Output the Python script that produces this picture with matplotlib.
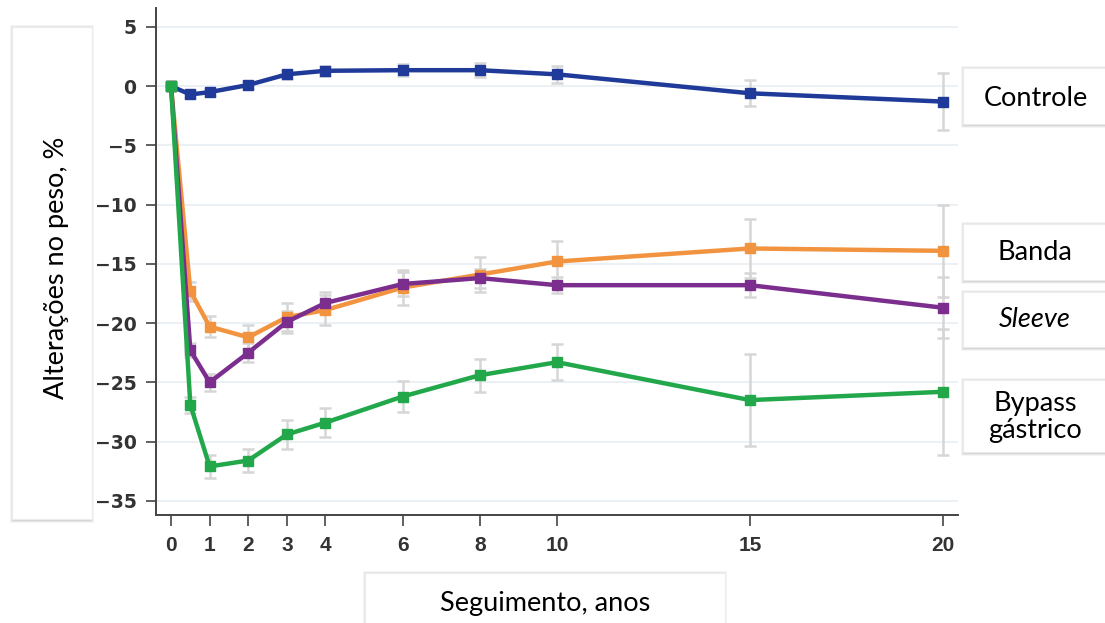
import matplotlib
matplotlib.use("Agg")
import matplotlib.pyplot as plt
from matplotlib.patches import Rectangle

years = [0, 0.5, 1, 2, 3, 4, 6, 8, 10, 15, 20]
xticks = [0, 1, 2, 3, 4, 6, 8, 10, 15, 20]
yticks = [5, 0, -5, -10, -15, -20, -25, -30, -35]

controle = [0, -0.7, -0.5, 0.1, 1.0, 1.3, 1.35, 1.35, 1.0, -0.6, -1.3]
controle_err = [0, 0.3, 0.3, 0.3, 0.4, 0.4, 0.5, 0.6, 0.7, 1.1, 2.4]

banda = [0, -17.3, -20.3, -21.2, -19.5, -18.9, -17.0, -15.9, -14.8, -13.7, -13.9]
banda_err = [0, 0.8, 0.9, 1.0, 1.2, 1.3, 1.5, 1.5, 1.7, 2.5, 3.9]

sleeve = [0, -22.3, -25.0, -22.5, -19.9, -18.3, -16.7, -16.2, -16.8, -16.8, -18.7]
sleeve_err = [0, 0.6, 0.7, 0.8, 0.9, 0.9, 1.0, 0.8, 0.7, 1.0, 2.6]

bypass = [0, -26.9, -32.1, -31.6, -29.4, -28.4, -26.2, -24.4, -23.3, -26.5, -25.8]
bypass_err = [0, 0.7, 1.0, 1.0, 1.2, 1.2, 1.3, 1.4, 1.5, 3.9, 5.3]

series = [
    (controle, controle_err, "#1f3a98"),
    (banda, banda_err, "#f2943f"),
    (sleeve, sleeve_err, "#7b2e8e"),
    (bypass, bypass_err, "#22a84a"),
]

W, H = 1105, 623
fig = plt.figure(figsize=(W / 100, H / 100), dpi=100)
ax = fig.add_axes([156 / W, 1 - 515 / H, (958 - 156) / W, (515 - 8) / H])

for vals, err, col in series:
    ax.errorbar(years, vals, yerr=err, fmt="none", ecolor="#d6d6d6",
                elinewidth=1.8, capsize=4, capthick=1.8, zorder=2)
for i, (vals, err, col) in enumerate(series):
    ax.plot(years, vals, color=col, lw=3.2, marker="s", ms=6.5, zorder=3 + i)

ax.set_xlim(-0.39, 20.39)
ax.set_ylim(-36.2, 6.6)
ax.set_xticks(xticks)
ax.set_xticklabels([str(v) for v in xticks], family="Liberation Sans",
                   fontweight="bold", fontsize=15, color="#333333")
ax.set_yticks(yticks)
ax.set_yticklabels([str(v).replace("-", "\u2212") for v in yticks],
                   family="DejaVu Sans", fontweight="bold", fontsize=13.5,
                   color="#333333")
for y in yticks:
    ax.axhline(y, color="#e6eef2", lw=1.2, zorder=1)

for s in ["top", "right"]:
    ax.spines[s].set_visible(False)
for s in ["left", "bottom"]:
    ax.spines[s].set_color("#444444")
    ax.spines[s].set_linewidth(1.4)
ax.tick_params(axis="y", length=7, width=1.2, color="#444444", pad=7)
ax.tick_params(axis="x", length=8, width=1.2, color="#444444", pad=7)


def box(x0, y0, x1, y1, text, tx, ty, rot=0, style="normal"):
    # pixel coords, top-left origin
    for k, a in [(3, 0.08), (2, 0.12), (1, 0.18)]:
        fig.patches.append(Rectangle(((x0 - k + 1) / W, 1 - (y1 + k + 1) / H),
                                     (x1 - x0 + 2 * k - 2) / W, (y1 - y0 + 2 * k) / H,
                                     transform=fig.transFigure, facecolor="#888888",
                                     edgecolor="none", alpha=a, zorder=0))
    fig.patches.append(Rectangle((x0 / W, 1 - y1 / H), (x1 - x0) / W, (y1 - y0) / H,
                                 transform=fig.transFigure, facecolor="white",
                                 edgecolor="#ececec", lw=0.8, zorder=1))
    fig.text(tx / W, 1 - ty / H, text, ha="center", va="center", rotation=rot,
             fontsize=19.5, family="Lato", style=style, color="black",
             linespacing=1.1, zorder=2)


box(12, 27, 92, 519, "Alterações no peso, %", 57, 268, rot=90)
box(365, 573, 725, 640, "Seguimento, anos", 545, 603)
box(963, 68, 1110, 124, "Controle", 1036, 99)
box(963, 224, 1110, 280, "Banda", 1035, 253)
box(963, 292, 1110, 347, "Sleeve", 1035, 320, style="italic")
box(963, 380, 1110, 452, "Bypass\ngástrico", 1035, 417)

fig.savefig("out.png", dpi=100)
